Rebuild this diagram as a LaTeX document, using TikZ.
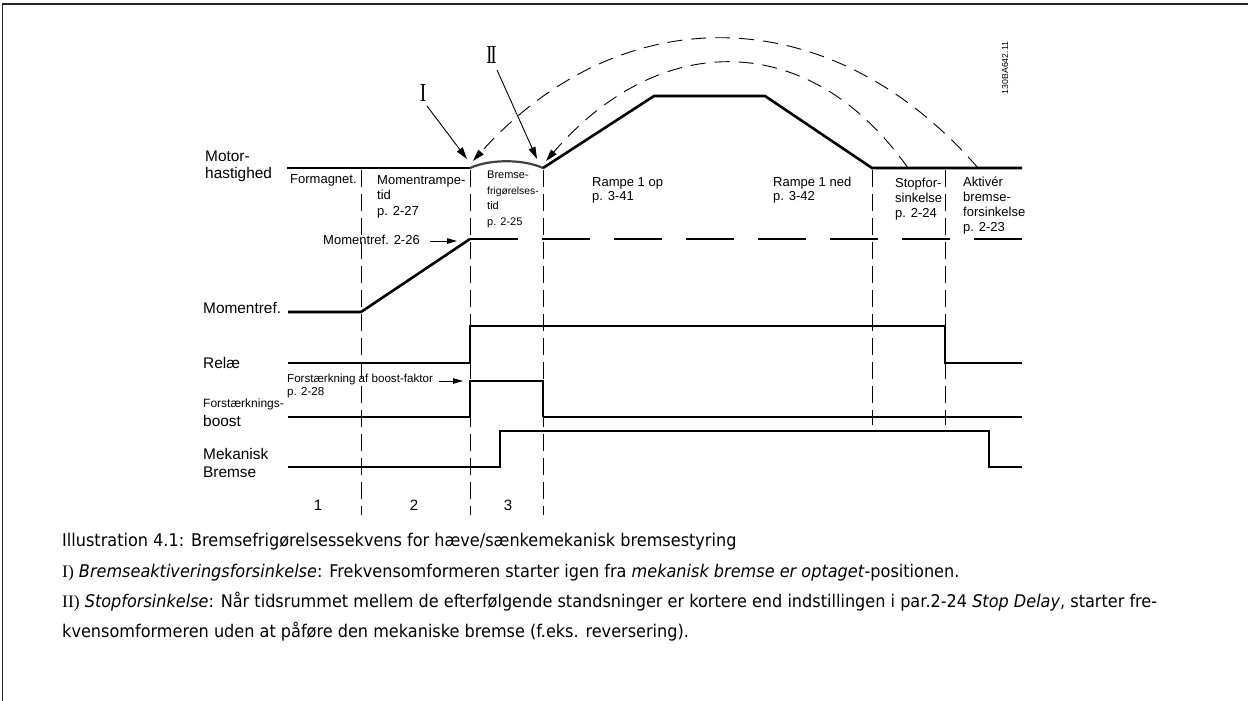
\documentclass[tikz,border=0pt]{standalone}
\usepackage{fontspec}
\usepackage{graphicx}
\setmainfont{Liberation Sans}
\newfontfamily\capfont[FakeStretch=0.92]{DejaVu Sans}
\newfontfamily\romfont{Liberation Serif}
\usetikzlibrary{arrows.meta}
\tikzset{
  sig/.style={line width=2.6pt},
  sigthin/.style={line width=1.8pt},
  vdash/.style={line width=0.9pt, dash pattern=on 17pt off 7pt},
  arcline/.style={line width=0.9pt, dash pattern=on 15pt off 9pt},
  bigtip/.style={line width=0.9pt, -{Triangle[length=12pt,width=7pt]}},
  smalltip/.style={line width=1pt, -{Triangle[length=10pt,width=5.5pt]}},
  side/.style={font=\fontsize{15.4}{17}\selectfont, anchor=base west, inner sep=0pt},
  sidesmall/.style={font=\fontsize{12}{14}\selectfont, anchor=base west, inner sep=0pt},
  seg/.style={font=\fontsize{13}{15}\selectfont, anchor=base west, inner sep=0pt},
  segsmall/.style={font=\fontsize{11}{13}\selectfont, anchor=base west, inner sep=0pt},
  captext/.style={font=\capfont\fontsize{17.5}{20}\selectfont, anchor=base west, inner sep=0pt},
  roman/.style={font=\romfont\fontsize{26}{28}\selectfont, inner sep=0pt},
  num/.style={font=\fontsize{15}{17}\selectfont, inner sep=0pt}
}
\begin{document}
\begin{tikzpicture}[x=1pt,y=-1pt]
\useasboundingbox (0,0) rectangle (1248,701);
% frame
\draw[line width=1.2pt, black!85] (2.5,701) -- (2.5,4) -- (1248,4);

% vertical dashed guides
\draw[vdash] (361,170) -- (361,515);
\draw[vdash] (470,170) -- (470,515);
\draw[vdash] (543,170) -- (543,515);
\draw[vdash] (872,170) -- (872,425);
\draw[vdash] (945,170) -- (945,425);

% motor speed
\draw[sig] (287,168) -- (470,168);
\draw[line width=2.2pt, black!75] (470,168) .. controls (490,159) and (523,159) .. (543,168);
\draw[sig, line join=miter] (543,168) -- (654,96) -- (765,96) -- (872,168) -- (1022,168);

% momentref
\draw[sig] (288,312) -- (361,312) -- (470,239);
\draw[sig, dash pattern=on 48pt off 24pt] (470,239) -- (1022,239);

% relay
\draw[sig] (288,363) -- (470,363) -- (470,326) -- (945,326) -- (945,363) -- (1022,363);
% boost
\draw[sig] (288,417) -- (470,417) -- (470,381) -- (543,381) -- (543,417);
\draw[sigthin] (543,417) -- (1022,417);
% mech brake
\draw[sig] (288,467) -- (500,467) -- (500,431) -- (989,431) -- (989,467) -- (1022,467);

% arcs
\draw[arcline, -{Triangle[length=12pt,width=7pt]}] (978,168) .. controls (830,-3) and (620,-3) .. (473,161);
\draw[arcline, -{Triangle[length=12pt,width=7pt]}] (908,168) .. controls (810,29) and (660,29) .. (546,161);

% I and II
\node[roman] (lI) at (423,93) {\scalebox{0.75}[1]{I}};
\node[roman] (lII) at (491.5,54.5) {\scalebox{0.7}[1]{I\kern-2.5pt I}};
\draw[bigtip] (427,106) -- (467,159);
\draw[bigtip] (497,70) -- (537,159);

% side labels
\node[side] (s1) at (205,161) {Motor-};
\node[side] (s2) at (205,178) {hastighed};
\node[side] (s3) at (203,313) {Momentref.};
\node[side] (s4) at (203,368) {Relæ};
\node[sidesmall] (s5) at (203,407) {Forstærknings-};
\node[side] (s6) at (203,426) {boost};
\node[side] (s7) at (203,459) {Mekanisk};
\node[side] (s8) at (203,477) {Bremse};

% segment labels
\node[seg] (a1) at (290,183) {Formagnet.};
\node[seg] (b1) at (377,184) {Momentrampe-};
\node[seg] (b2) at (377,199.5) {tid};
\node[seg] (b3) at (377,215) {p. 2-27};
\node[segsmall] (c1) at (487,178) {Bremse-};
\node[segsmall, font=\fontsize{10.3}{12}\selectfont] (c2) at (487,194) {frigørelses-};
\node[segsmall] (c3) at (487,209) {tid};
\node[segsmall] (c4) at (487,225) {p. 2-25};
\node[seg] (d1) at (592,186) {Rampe 1 op};
\node[seg] (d2) at (592,200.5) {p. 3-41};
\node[seg] (e1) at (773,186) {Rampe 1 ned};
\node[seg] (e2) at (773,200.5) {p. 3-42};
\node[seg] (f1) at (895,187.5) {Stopfor-};
\node[seg] (f2) at (895,202.5) {sinkelse};
\node[seg] (f3) at (895,217.5) {p. 2-24};
\node[seg] (g1) at (963,186) {Aktivér};
\node[seg] (g2) at (963,201) {bremse-};
\node[seg] (g3) at (963,216) {forsinkelse};
\node[seg] (g4) at (963,231) {p. 2-23};

% annotation arrows
\node[seg] (m1) at (323,244) {Momentref. 2-26};
\coordinate (m1t) at (457,241);
\draw[smalltip] (430,241) -- (m1t);
\node[sidesmall, font=\fontsize{11.6}{14}\selectfont] (k1) at (287,382) {Forstærkning af boost-faktor};
\node[sidesmall, font=\fontsize{11.6}{14}\selectfont] (k2) at (287,395.5) {p. 2-28};
\coordinate (k1t) at (463,381);
\draw[smalltip] (439,381) -- (k1t);

% phase numbers
\node[num] (n1) at (318,505) {1};
\node[num] (n2) at (414,505) {2};
\node[num] (n3) at (508,505) {3};

% drawing code
\node[rotate=90, font=\fontsize{8.7}{10}\selectfont, inner sep=0pt] (code) at (1005,68) {130BA642.11};

% caption
\node[captext] (t1) at (62,546) {Illustration 4.1: Bremsefrigørelsessekvens for hæve/sænkemekanisk bremsestyring};
\node[captext] (t2) at (62,577) {{\romfont I)} \textit{Bremseaktiveringsforsinkelse}: Frekvensomformeren starter igen fra \textit{mekanisk bremse er optaget}-positionen.};
\node[captext] (t3) at (62,607) {{\romfont II)} \textit{Stopforsinkelse}: Når tidsrummet mellem de efterfølgende standsninger er kortere end indstillingen i par.2-24 \textit{Stop Delay}, starter fre-};
\node[captext] (t4) at (62,637) {kvensomformeren uden at påføre den mekaniske bremse (f.eks. reversering).};
\end{tikzpicture}
\end{document}
